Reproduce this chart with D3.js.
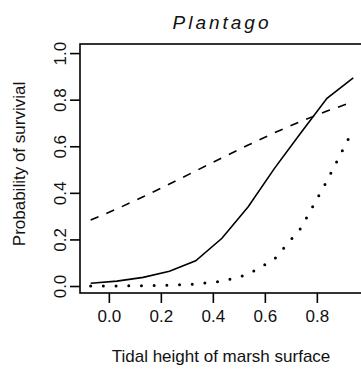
<!DOCTYPE html>
<html>
<head>
<meta charset="utf-8">
<script src="https://cdn.jsdelivr.net/npm/d3@7"></script>
<style>
  html, body { margin: 0; padding: 0; background: #fff; }
  svg { display: block; }
  text { font-family: "Liberation Sans", Arial, sans-serif; fill: #111; }
</style>
</head>
<body>
<svg id="chart" width="361" height="369"></svg>
<script>
// ---- data ----
const heights = [-0.07, 0.031, 0.132, 0.233, 0.334, 0.435, 0.536, 0.637, 0.738, 0.839, 0.94];
const solidSeries  = [0.012, 0.021, 0.037, 0.063, 0.108, 0.205, 0.340, 0.505, 0.657, 0.806, 0.894];
const dashedSeries = [0.283, 0.331, 0.383, 0.438, 0.494, 0.550, 0.605, 0.658, 0.707, 0.751, 0.791];
const dottedSeries = [0.0002, 0.0005, 0.0013, 0.0033, 0.0083, 0.0204, 0.050, 0.116, 0.248, 0.451, 0.673];
const xTicks = [0.0, 0.2, 0.4, 0.6, 0.8];
const yTicks = [0.0, 0.2, 0.4, 0.6, 0.8, 1.0];
const titleText = "Plantago";
const xLabel = "Tidal height of marsh surface";
const yLabel = "Probability of survivial";

// ---- layout ----
const svg = d3.select("#chart");
const pLeft = 80, pRight = 366.5, pTop = 44, pBottom = 293;

const x = d3.scaleLinear().domain([-0.111, 0.991]).range([pLeft, pRight]);
const y = d3.scaleLinear().domain([-0.03, 1.039]).range([pBottom, pTop]);

// box
svg.append("rect")
  .attr("x", pLeft).attr("y", pTop)
  .attr("width", pRight - pLeft).attr("height", pBottom - pTop)
  .attr("fill", "none").attr("stroke", "#000").attr("stroke-width", 1.6);

// x axis
const xAxis = d3.axisBottom(x).tickValues(xTicks).tickFormat(d3.format(".1f"))
  .tickSize(10).tickPadding(6);
const gx = svg.append("g").attr("transform", `translate(0,${pBottom})`).call(xAxis);
gx.select(".domain").remove();
gx.selectAll(".tick line").attr("stroke", "#000").attr("stroke-width", 1.6);
gx.selectAll(".tick text")
  .attr("font-family", '"Liberation Sans", Arial, sans-serif')
  .attr("font-size", 17).attr("fill", "#111")
  .attr("dy", null).attr("y", 28.5);

// y axis
const yAxis = d3.axisLeft(y).tickValues(yTicks).tickFormat(d3.format(".1f"))
  .tickSize(10);
const gy = svg.append("g").attr("transform", `translate(${pLeft},0)`).call(yAxis);
gy.select(".domain").remove();
gy.selectAll(".tick line").attr("stroke", "#000").attr("stroke-width", 1.6);
gy.selectAll(".tick text")
  .attr("font-family", '"Liberation Sans", Arial, sans-serif')
  .attr("font-size", 17).attr("fill", "#111")
  .attr("x", null).attr("dy", null)
  .attr("text-anchor", "middle")
  .attr("transform", "translate(-14,0) rotate(-90)");

// clip
svg.append("clipPath").attr("id", "plotclip")
  .append("rect").attr("x", pLeft).attr("y", pTop)
  .attr("width", pRight - pLeft).attr("height", pBottom - pTop);

const line = d3.line().x((d, i) => x(heights[i])).y(d => y(d));
const g = svg.append("g").attr("clip-path", "url(#plotclip)");

g.append("path").datum(solidSeries).attr("d", line)
  .attr("fill", "none").attr("stroke", "#000").attr("stroke-width", 1.6);

g.append("path").datum(dashedSeries).attr("d", line)
  .attr("fill", "none").attr("stroke", "#000").attr("stroke-width", 1.6)
  .attr("stroke-dasharray", "8.5 8.5");

g.append("path").datum(dottedSeries).attr("d", line)
  .attr("fill", "none").attr("stroke", "#000").attr("stroke-width", 3)
  .attr("stroke-linecap", "round")
  .attr("stroke-dasharray", "0 12.7");

// title
svg.append("text")
  .attr("x", 222).attr("y", 29)
  .attr("text-anchor", "middle")
  .attr("font-size", 19).attr("font-style", "italic")
  .attr("letter-spacing", 3)
  .text(titleText);

// x label
svg.append("text")
  .attr("x", 221).attr("y", 362)
  .attr("text-anchor", "middle")
  .attr("font-size", 17)
  .text(xLabel);

// y label
svg.append("text")
  .attr("transform", "translate(25,164) rotate(-90)")
  .attr("text-anchor", "middle")
  .attr("font-size", 17)
  .text(yLabel);
</script>
</body>
</html>
